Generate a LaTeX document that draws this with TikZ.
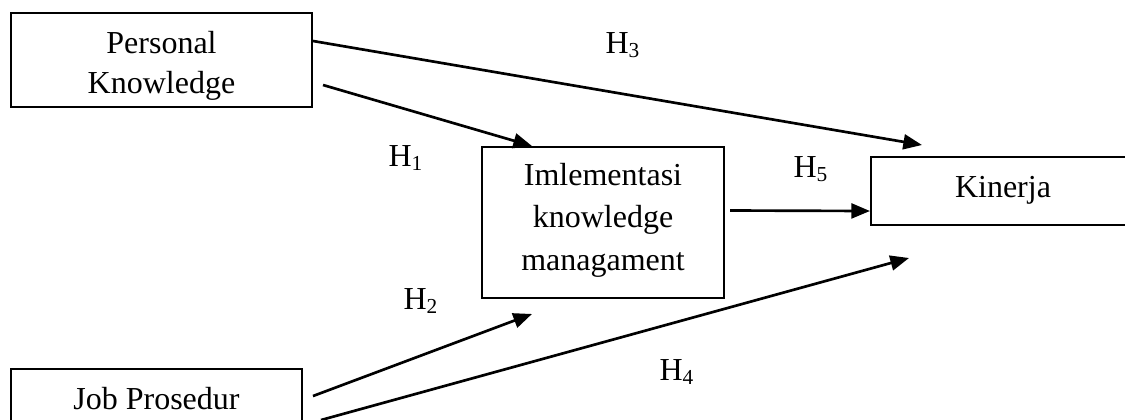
\documentclass[tikz,border=0pt]{standalone}
\usepackage{fontspec}
\setmainfont{Liberation Serif}
\usetikzlibrary{arrows.meta,calc}

\tikzset{
  box/.style={draw, line width=0.75pt, inner sep=0pt, rectangle},
  txt/.style={inner sep=0pt, align=center, anchor=base,
              font=\fontsize{12pt}{15.9pt}\selectfont},
  hyp/.style={inner sep=0pt, anchor=base west,
              font=\fontsize{12pt}{14pt}\selectfont},
  link/.style={line width=1pt, -{Triangle[length=7pt,width=5.6pt]}},
}

\begin{document}
\begin{tikzpicture}[x=0.375pt, y=-0.375pt]
  \useasboundingbox (0,0) rectangle (1125,419);
  \clip (0,0) rectangle (1125,419);

  % boxes
  \node[box, minimum width=112.9pt, minimum height=35.25pt] (pk)  at (161.5,60)  {};
  \node[box, minimum width=90.75pt, minimum height=56.6pt]  (ikm) at (603,222.5) {};
  \node[box, minimum width=99pt,    minimum height=25.5pt]  (kin) at (1003,191)  {};
  \node[box, minimum width=109.1pt, minimum height=26.6pt]  (jp)  at (156.5,404.5) {};

  % box texts (base anchor sits on the last line)
  \node[txt, font=\fontsize{12pt}{15pt}\selectfont] (pkt) at (161.5,93) {Personal\\Knowledge};
  \node[txt] (ikmt) at (603,270) {Imlementasi\\knowledge\\managament};
  \node[txt] (kint) at (1003,197) {Kinerja};
  \node[txt] (jpt)  at (156.5,409) {Job Prosedur};

  % hypothesis labels
  \node[hyp] (h1) at (388,166) {H\textsubscript{1}};
  \node[hyp] (h2) at (403,309) {H\textsubscript{2}};
  \node[hyp] (h3) at (605,53)  {H\textsubscript{3}};
  \node[hyp] (h4) at (659,380) {H\textsubscript{4}};
  \node[hyp] (h5) at (793,177) {H\textsubscript{5}};

  % relations
  \draw[link] ($(pk.east)+(0,-19)$) -- ($(kin.north west)+(52,-11)$);
  \draw[link] ($(pk.east)+(10,25)$) -- ($(ikm.north west)+(51,0)$);
  \draw[link] ($(ikm.east)+(5,-12)$) -- ($(kin.west)+(0,20)$);
  \draw[link] ($(jp.north east)+(10,28)$) -- ($(ikm.south west)+(51,15)$);
  \draw[link] ($(jp.north east)+(18,52)$) -- ($(kin.south west)+(39,32)$);
\end{tikzpicture}
\end{document}
